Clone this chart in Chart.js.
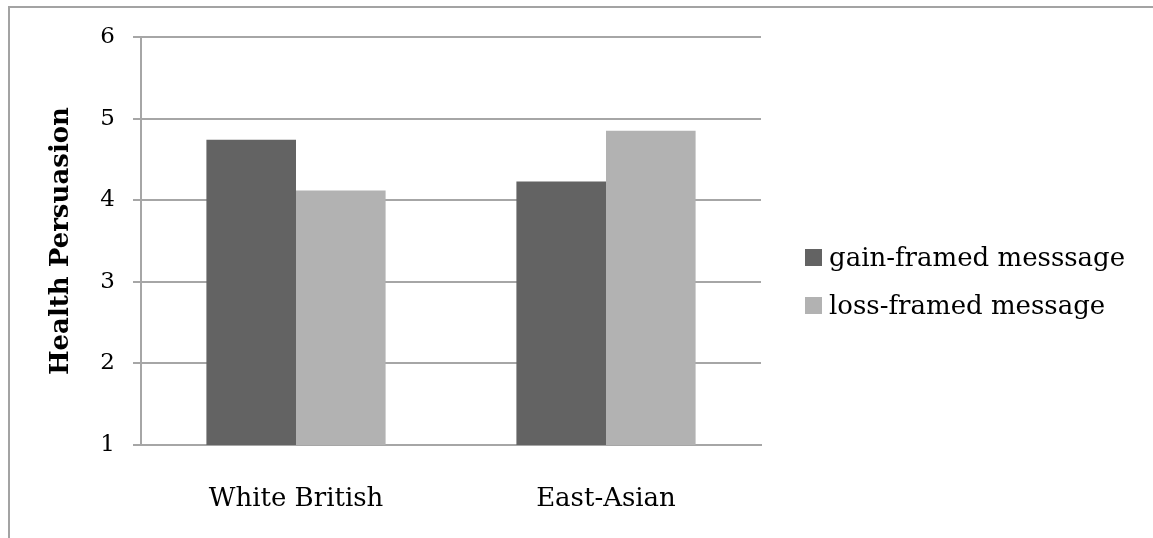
<!DOCTYPE html>
<html>
<head>
<meta charset="utf-8">
<script src="https://cdn.jsdelivr.net/npm/chart.js@4/dist/chart.umd.min.js"></script>
<style>
  html, body { margin: 0; padding: 0; background: #fff; }
  #wrap { position: relative; width: 1153px; height: 538px; overflow: hidden; }
  #frame { position: absolute; left: 8px; top: 6px; width: 1200px; height: 600px;
           border-left: 2px solid #a3a3a3; border-top: 2px solid #a3a3a3; }
  #chart { position: absolute; left: 0; top: 0; }
  #legend { position: absolute; left: 805px; top: 233px; font-family: 'DejaVu Serif', serif;
            font-size: 26px; color: #000; }
  .lg-row { display: flex; align-items: center; height: 48px; }
  .lg-box { width: 17px; height: 17px; margin-right: 7px; }
</style>
</head>
<body>
<div id="wrap">
  <div id="frame"></div>
  <canvas id="chart" width="1153" height="538"></canvas>
  <div id="legend"></div>
</div>
<script>
const categories = ['White British', 'East-Asian'];
const seriesNames = ['gain-framed messsage', 'loss-framed message'];
const gainValues = [4.74, 4.23];
const lossValues = [4.12, 4.85];
const yTicks = [1, 2, 3, 4, 5, 6];

const colors = ['#636363', '#b2b2b2'];
const gridColor = '#a6a6a6';
const serif = "'DejaVu Serif', serif";

const datasets = [
  { label: seriesNames[0], data: gainValues, backgroundColor: colors[0] },
  { label: seriesNames[1], data: lossValues, backgroundColor: colors[1] }
];

// legende HTML (placement libre a droite)
document.getElementById('legend').innerHTML = datasets.map(d => `
  <div class="lg-row"><div class="lg-box" style="background:${d.backgroundColor}"></div><span>${d.label}</span></div>
`).join('');

new Chart(document.getElementById('chart'), {
  type: 'bar',
  data: { labels: categories, datasets: datasets },
  options: {
    responsive: false,
    animation: false,
    devicePixelRatio: 1,
    layout: { padding: { top: 37, right: 392, left: 0, bottom: 0 } },
    datasets: { bar: { barPercentage: 1, categoryPercentage: 0.578 } },
    plugins: { legend: { display: false }, tooltip: { enabled: false } },
    scales: {
      x: {
        grid: { display: false },
        border: { display: true, color: gridColor, width: 2 },
        ticks: { color: '#000', padding: 31, font: { family: serif, size: 26 } },
        afterFit: s => { s.height = 93; }
      },
      y: {
        min: yTicks[0],
        max: yTicks[yTicks.length - 1],
        afterBuildTicks: s => { s.ticks = yTicks.map(v => ({ value: v })); },
        grid: { color: gridColor, lineWidth: 2, tickLength: 8 },
        border: { display: true, color: gridColor, width: 2 },
        ticks: { color: '#000', padding: 18, font: { family: serif, size: 23 } },
        title: {
          display: true,
          text: 'Health Persuasion',
          color: '#000',
          font: { family: serif, size: 26, weight: 'bold' },
          padding: { top: 46 }
        },
        afterFit: s => { s.width = 141; }
      }
    }
  }
});
</script>
</body>
</html>
